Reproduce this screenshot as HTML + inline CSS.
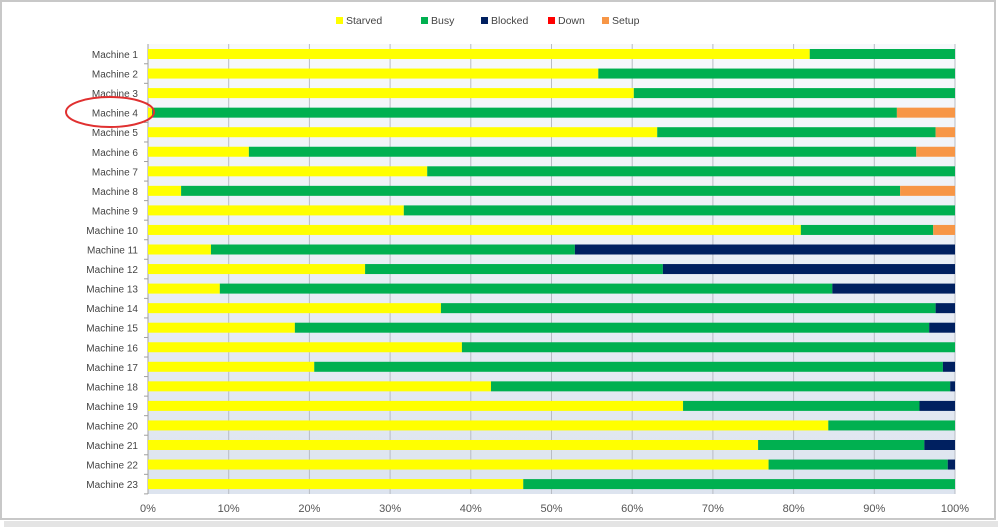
<!DOCTYPE html>
<html><head><meta charset="utf-8"><style>
body{margin:0;background:#fff;font-family:"Liberation Sans",sans-serif;}
#wrap{position:relative;width:999px;height:528px;overflow:hidden;background:#fff;}
</style></head><body>
<div id="wrap">
<svg id="chart" width="999" height="528">
<defs><linearGradient id="bg" x1="0" y1="0" x2="0" y2="1"><stop offset="0" stop-color="#f7f9fc"/><stop offset="1" stop-color="#dde4ef"/></linearGradient></defs>
<rect x="1" y="1" width="994" height="518" fill="#fff" stroke="#c8c8c8" stroke-width="2"/>
<rect x="4" y="521" width="994" height="6" fill="#e4e4e4"/>
<rect x="148" y="44" width="807" height="450" fill="url(#bg)"/>
<g id="grid"></g><g id="bars"></g><g id="labels"></g><g id="legend"></g>
<ellipse cx="110" cy="112" rx="44" ry="15" fill="none" stroke="#e03030" stroke-width="2"/>
</svg>
</div>
<script>
const categories=["Machine 1","Machine 2","Machine 3","Machine 4","Machine 5","Machine 6","Machine 7","Machine 8","Machine 9","Machine 10","Machine 11","Machine 12","Machine 13","Machine 14","Machine 15","Machine 16","Machine 17","Machine 18","Machine 19","Machine 20","Machine 21","Machine 22","Machine 23"];
const starved=[82.0,55.8,60.2,0.5,63.1,12.5,34.6,4.1,31.7,80.9,7.8,26.9,8.9,36.3,18.2,38.9,20.6,42.5,66.3,84.3,75.6,76.9,46.5];
const busy=[18.0,44.2,39.8,92.3,34.5,82.7,65.4,89.1,68.3,16.4,45.1,36.9,75.9,61.3,78.6,61.1,77.9,56.9,29.3,15.7,20.6,22.2,53.5];
const blocked=[0,0,0,0,0,0,0,0,0,0,47.1,36.2,15.2,2.4,3.2,0,1.5,0.6,4.4,0,3.8,0.9,0];
const down=[0,0,0,0,0,0,0,0,0,0,0,0,0,0,0,0,0,0,0,0,0,0,0];
const setup=[0,0,0,7.2,2.4,4.8,0,6.8,0,2.7,0,0,0,0,0,0,0,0,0,0,0,0,0];
const seriesNames=["Starved","Busy","Blocked","Down","Setup"];
const seriesColors=["#ffff00","#00b050","#002060","#ff0000","#f79646"];
const xTicks=[0,10,20,30,40,50,60,70,80,90,100];
const NS="http://www.w3.org/2000/svg";
const X0=148,X1=955,Y0=54,STEP=19.55,BH=10;
const xs=v=>X0+(X1-X0)*v/100;
const ys=i=>Y0+i*STEP;
function mk(t,a,p){const e=document.createElementNS(NS,t);for(const k in a)e.setAttribute(k,a[k]);p.appendChild(e);return e;}
const grid=document.getElementById('grid'),bars=document.getElementById('bars'),labels=document.getElementById('labels'),legend=document.getElementById('legend');
xTicks.forEach(t=>{
 const l=mk('line',{x1:xs(t),x2:xs(t),y1:44,y2:494,stroke:t==0?'#a0a0a0':'#b8bcc4','stroke-width':1},grid);
 
 
 const tx=mk('text',{x:xs(t),y:512,'text-anchor':'middle','font-size':11,fill:'#555'},labels);
 tx.textContent=t+'%';
 
 
});
const all=[starved,busy,blocked,down,setup];
categories.forEach((c,i)=>{
 let acc=0;
 all.forEach((s,k)=>{
  const v=s[i];if(v<=0)return;
  const r=mk('rect',{x:xs(acc),y:ys(i)-BH/2,width:xs(acc+v)-xs(acc),height:BH,fill:seriesColors[k]},bars);
  
  
  acc+=v;
 });
 const tk=mk('line',{x1:144,x2:148,y1:ys(i)+STEP/2,y2:ys(i)+STEP/2,stroke:'#a0a0a0'},grid);
 
 
 const t=mk('text',{x:138,y:ys(i)+4,'text-anchor':'end','font-size':10,fill:'#444'},labels);
 t.textContent=c;
 
 
});
const lx=[336,421,481,548,602];
seriesNames.forEach((n,k)=>{
 const r=mk('rect',{x:lx[k],y:17,width:7,height:7,fill:seriesColors[k]},legend);
 
 
 const t=mk('text',{x:lx[k]+10,y:24,'font-size':10.5,fill:'#444'},legend);
 t.textContent=n;
 
 
});
</script>
</body></html>
